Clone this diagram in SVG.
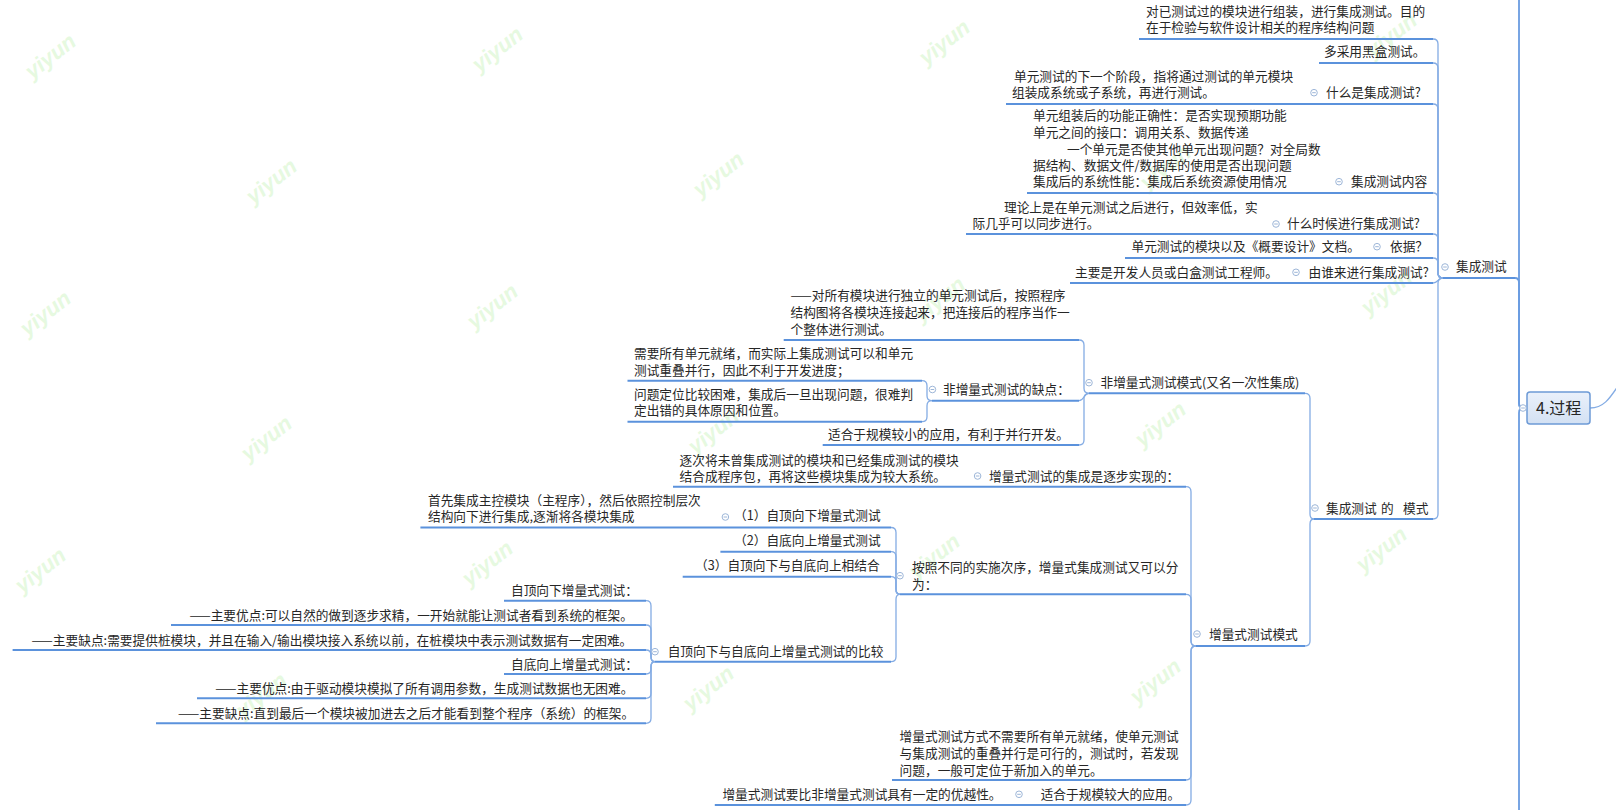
<svg xmlns="http://www.w3.org/2000/svg" xmlns:xlink="http://www.w3.org/1999/xlink" width="1616" height="810" viewBox="0 0 1616 810">
<style>
.t{font-family:"Noto Sans CJK SC","Noto Sans",sans-serif;font-size:12.7px;fill:#262626}
.u{stroke:#5b92dc;stroke-width:2;fill:none}
.c{stroke:#84ace4;stroke-width:1.3;fill:none}
.sp{stroke:#6a9ce0;stroke-width:1.8;fill:none}
.wm{font-family:"Liberation Sans",sans-serif;font-size:22px;font-weight:bold;font-style:italic;fill:#e6f9e0;text-anchor:middle}
.tg circle{fill:#fff;stroke:#9db6d8;stroke-width:1}
.tg line{stroke:#9db6d8;stroke-width:1}
</style>
<defs>
<linearGradient id="rg" x1="0" y1="0" x2="0" y2="1">
<stop offset="0" stop-color="#eaf1fb"/>
<stop offset="1" stop-color="#d3e1f3"/>
</linearGradient>
<g id="tog" class="tg"><circle r="3.3"/><line x1="-1.8" y1="0" x2="1.8" y2="0"/></g>
</defs>
<rect width="1616" height="810" fill="#ffffff"/>

<g id="watermarks">
<text class="wm" transform="translate(55,62) rotate(-38)">yiyun</text>
<text class="wm" transform="translate(502,55) rotate(-38)">yiyun</text>
<text class="wm" transform="translate(949,48) rotate(-38)">yiyun</text>
<text class="wm" transform="translate(1396,41) rotate(-38)">yiyun</text>
<text class="wm" transform="translate(276,187) rotate(-38)">yiyun</text>
<text class="wm" transform="translate(723,180) rotate(-38)">yiyun</text>
<text class="wm" transform="translate(1170,173) rotate(-38)">yiyun</text>
<text class="wm" transform="translate(50,319) rotate(-38)">yiyun</text>
<text class="wm" transform="translate(497,312) rotate(-38)">yiyun</text>
<text class="wm" transform="translate(944,305) rotate(-38)">yiyun</text>
<text class="wm" transform="translate(1391,298) rotate(-38)">yiyun</text>
<text class="wm" transform="translate(271,444) rotate(-38)">yiyun</text>
<text class="wm" transform="translate(718,437) rotate(-38)">yiyun</text>
<text class="wm" transform="translate(1165,430) rotate(-38)">yiyun</text>
<text class="wm" transform="translate(45,576) rotate(-38)">yiyun</text>
<text class="wm" transform="translate(492,569) rotate(-38)">yiyun</text>
<text class="wm" transform="translate(939,562) rotate(-38)">yiyun</text>
<text class="wm" transform="translate(1386,555) rotate(-38)">yiyun</text>
<text class="wm" transform="translate(266,701) rotate(-38)">yiyun</text>
<text class="wm" transform="translate(713,694) rotate(-38)">yiyun</text>
<text class="wm" transform="translate(1160,687) rotate(-38)">yiyun</text>
</g>

<g id="connectors">
<path class="sp" d="M1519,-2 V403 Q1519,408 1523,408"/>
<path class="sp" d="M1519,812 V413 Q1519,408 1523,408"/>
<path class="sp" d="M1515,278 Q1519,278 1519,283 V403 Q1519,408 1523,408"/>
<path class="c" d="M1590,408 C1603,408 1609,400 1620,383"/>
<path class="c" d="M1433,39 Q1438,39 1438,44 V273 Q1438,278 1443,278"/>
<path class="c" d="M1433,63 Q1438,63 1438,68 V273 Q1438,278 1443,278"/>
<path class="c" d="M1433,104 Q1438,104 1438,109 V273 Q1438,278 1443,278"/>
<path class="c" d="M1433,193 Q1438,193 1438,198 V273 Q1438,278 1443,278"/>
<path class="c" d="M1433,234 Q1438,234 1438,239 V273 Q1438,278 1443,278"/>
<path class="c" d="M1433,258 Q1438,258 1438,263 V273 Q1438,278 1443,278"/>
<path class="c" d="M1433,283 C1438,283 1438,278 1443,278"/>
<path class="c" d="M1433,519 Q1438,519 1438,514 V283 Q1438,278 1443,278"/>
<path class="c" d="M1305,393.3 Q1310,393.3 1310,398.3 V514 Q1310,519 1314,519"/>
<path class="c" d="M1305,646 Q1310,646 1310,641 V524 Q1310,519 1314,519"/>
<path class="c" d="M1079,340 Q1084,340 1084,345 V388.3 Q1084,393.3 1089,393.3"/>
<path class="c" d="M1079,400.7 C1084,400.7 1084,393.3 1089,393.3"/>
<path class="c" d="M1079,445 Q1084,445 1084,440 V398.3 Q1084,393.3 1089,393.3"/>
<path class="c" d="M922,380.7 Q927,380.7 927,385.7 V395.7 Q927,400.7 932,400.7"/>
<path class="c" d="M922,421.7 Q927,421.7 927,416.7 V405.7 Q927,400.7 932,400.7"/>
<path class="c" d="M1186,486.7 Q1191,486.7 1191,491.7 V641 Q1191,646 1196,646"/>
<path class="c" d="M1186,594.3 Q1191,594.3 1191,599.3 V641 Q1191,646 1196,646"/>
<path class="c" d="M1186,780 Q1191,780 1191,775 V651 Q1191,646 1196,646"/>
<path class="c" d="M1186,805 Q1191,805 1191,800 V651 Q1191,646 1196,646"/>
<path class="c" d="M891,527.5 Q896,527.5 896,532.5 V589.3 Q896,594.3 900,594.3"/>
<path class="c" d="M891,551.7 Q896,551.7 896,556.7 V589.3 Q896,594.3 900,594.3"/>
<path class="c" d="M891,576.7 Q896,576.7 896,581.7 V589.3 Q896,594.3 900,594.3"/>
<path class="c" d="M891,661.7 Q896,661.7 896,656.7 V599.3 Q896,594.3 900,594.3"/>
<path class="c" d="M646,600.7 Q651,600.7 651,605.7 V656.7 Q651,661.7 655,661.7"/>
<path class="c" d="M646,625 Q651,625 651,630 V656.7 Q651,661.7 655,661.7"/>
<path class="c" d="M646,650 Q651,650 651,655 V656.7 Q651,661.7 655,661.7"/>
<path class="c" d="M646,674 Q651,674 651,669 V666.7 Q651,661.7 655,661.7"/>
<path class="c" d="M646,698.3 Q651,698.3 651,693.3 V666.7 Q651,661.7 655,661.7"/>
<path class="c" d="M646,723.3 Q651,723.3 651,718.3 V666.7 Q651,661.7 655,661.7"/>
</g>

<g id="n-root">
<rect x="1527" y="392" width="63" height="32" rx="3" fill="url(#rg)" stroke="#6d9ad6" stroke-width="1.5"/>
<text x="1536" y="414" style="font-family:'Noto Sans CJK SC','Noto Sans',sans-serif;font-size:16px;fill:#262626">4.过程</text>
<use xlink:href="#tog" x="1523" y="408"/>
</g>

<g id="n-jc">
<text class="t" x="1456" y="271">集成测试</text>
<path class="u" d="M1443,278 H1515"/>
<use xlink:href="#tog" x="1445" y="267"/>
</g>

<g id="n-a">
<text class="t" x="1146" y="16">对已测试过的模块进行组装，进行集成测试。目的</text>
<text class="t" x="1146" y="32">在于检验与软件设计相关的程序结构问题</text>
<path class="u" d="M1139,39 H1433"/>
</g>

<g id="n-b">
<text class="t" x="1324" y="56">多采用黑盒测试。</text>
<path class="u" d="M1319,63 H1433"/>
</g>

<g id="n-c">
<text class="t" x="1326" y="97">什么是集成测试?</text>
<path class="u" d="M1310,104 H1433"/>
<use xlink:href="#tog" x="1314" y="92.7"/>
</g>
<g id="n-c1">
<text class="t" x="1014" y="81">单元测试的下一个阶段，指将通过测试的单元模块</text>
<text class="t" x="1012" y="97">组装成系统或子系统，再进行测试。</text>
<path class="u" d="M1006,104 H1310"/>
</g>

<g id="n-d">
<text class="t" x="1351" y="186">集成测试内容</text>
<path class="u" d="M1335,193 H1433"/>
<use xlink:href="#tog" x="1339" y="181.7"/>
</g>
<g id="n-d1">
<text class="t" x="1033" y="120">单元组装后的功能正确性：是否实现预期功能</text>
<text class="t" x="1033" y="137">单元之间的接口：调用关系、数据传递</text>
<text class="t" x="1067" y="153.5">一个单元是否使其他单元出现问题？对全局数</text>
<text class="t" x="1033" y="170">据结构、数据文件/数据库的使用是否出现问题</text>
<text class="t" x="1033" y="186">集成后的系统性能：集成后系统资源使用情况</text>
<path class="u" d="M1027,193 H1335"/>
</g>

<g id="n-e">
<text class="t" x="1287" y="228">什么时候进行集成测试?</text>
<path class="u" d="M1272,234 H1433"/>
<use xlink:href="#tog" x="1276" y="224"/>
</g>
<g id="n-e1">
<text class="t" x="1004" y="212">理论上是在单元测试之后进行，但效率低，实</text>
<text class="t" x="972.5" y="228">际几乎可以同步进行。</text>
<path class="u" d="M966,234 H1272"/>
</g>

<g id="n-f">
<text class="t" x="1390" y="251">依据？</text>
<path class="u" d="M1373,258 H1433"/>
<use xlink:href="#tog" x="1377" y="246.7"/>
</g>
<g id="n-f1">
<text class="t" x="1131.5" y="251">单元测试的模块以及《概要设计》文档。</text>
<path class="u" d="M1125,258 H1373"/>
</g>

<g id="n-g">
<text class="t" x="1308.5" y="276.5">由谁来进行集成测试?</text>
<path class="u" d="M1292,283 H1433"/>
<use xlink:href="#tog" x="1296" y="272.3"/>
</g>
<g id="n-g1">
<text class="t" x="1075" y="276.5">主要是开发人员或白盒测试工程师。</text>
<path class="u" d="M1070,283 H1292"/>
</g>

<g id="n-mode">
<text class="t" y="512.5"><tspan x="1326">集成测试</tspan><tspan x="1381">的</tspan><tspan x="1403">模式</tspan></text>
<path class="u" d="M1314,519 H1433"/>
<use xlink:href="#tog" x="1315" y="508"/>
</g>

<g id="n-non">
<text class="t" x="1100.5" y="387">非增量式测试模式(又名一次性集成)</text>
<path class="u" d="M1089,393.3 H1305"/>
<use xlink:href="#tog" x="1089" y="382.7"/>
</g>
<g id="n-non1">
<text class="t" x="790.5" y="299.5">——对所有模块进行独立的单元测试后，按照程序</text>
<text class="t" x="790.5" y="316.5">结构图将各模块连接起来，把连接后的程序当作一</text>
<text class="t" x="790.5" y="333.5">个整体进行测试。</text>
<path class="u" d="M783.7,340 H1079"/>
</g>
<g id="n-nonq">
<text class="t" x="943" y="393.5">非增量式测试的缺点：</text>
<path class="u" d="M932,400.7 H1079"/>
<use xlink:href="#tog" x="932.4" y="389.5"/>
</g>
<g id="n-nonq1">
<text class="t" x="634" y="358">需要所有单元就绪，而实际上集成测试可以和单元</text>
<text class="t" x="634" y="374.5">测试重叠并行，因此不利于开发进度；</text>
<path class="u" d="M627.5,380.7 H922"/>
</g>
<g id="n-nonq2">
<text class="t" x="634" y="398.5">问题定位比较困难，集成后一旦出现问题，很难判</text>
<text class="t" x="634" y="414.5">定出错的具体原因和位置。</text>
<path class="u" d="M627.5,421.7 H922"/>
</g>
<g id="n-non3">
<text class="t" x="828" y="438.5">适合于规模较小的应用，有利于并行开发。</text>
<path class="u" d="M822.7,445 H1079"/>
</g>

<g id="n-inc">
<text class="t" x="1209" y="638.5">增量式测试模式</text>
<path class="u" d="M1196,646 H1305"/>
<use xlink:href="#tog" x="1197" y="634"/>
</g>
<g id="n-inc1">
<text class="t" x="989" y="480.5">增量式测试的集成是逐步实现的：</text>
<path class="u" d="M977,486.7 H1186"/>
<use xlink:href="#tog" x="977.6" y="476"/>
</g>
<g id="n-inc1a">
<text class="t" x="679.6" y="464.5">逐次将未曾集成测试的模块和已经集成测试的模块</text>
<text class="t" x="679.6" y="480.5">结合成程序包，再将这些模块集成为较大系统。</text>
<path class="u" d="M673,486.7 H977"/>
</g>
<g id="n-inc2">
<text class="t" x="912" y="571.5">按照不同的实施次序，增量式集成测试又可以分</text>
<text class="t" x="912" y="588.5">为：</text>
<path class="u" d="M900,594.3 H1186"/>
<use xlink:href="#tog" x="900" y="575.7"/>
</g>
<g id="n-inc2a">
<text class="t" x="734" y="520">（1）自顶向下增量式测试</text>
<path class="u" d="M722,527.5 H891"/>
<use xlink:href="#tog" x="725.4" y="517"/>
</g>
<g id="n-inc2a1">
<text class="t" x="428" y="504.5">首先集成主控模块（主程序），然后依照控制层次</text>
<text class="t" x="428" y="521">结构向下进行集成,逐渐将各模块集成</text>
<path class="u" d="M420.4,527.5 H722"/>
</g>
<g id="n-inc2b">
<text class="t" x="734" y="545">（2）自底向上增量式测试</text>
<path class="u" d="M720.4,551.7 H891"/>
</g>
<g id="n-inc2c">
<text class="t" x="695" y="569.5">（3）自顶向下与自底向上相结合</text>
<path class="u" d="M682.7,576.7 H891"/>
</g>
<g id="n-inc2d">
<text class="t" x="667.7" y="655.5">自顶向下与自底向上增量式测试的比较</text>
<path class="u" d="M655,661.7 H891"/>
<use xlink:href="#tog" x="655" y="651.7"/>
</g>
<g id="n-cmp1">
<text class="t" x="511" y="594.5">自顶向下增量式测试：</text>
<path class="u" d="M504,600.7 H646"/>
</g>
<g id="n-cmp2">
<text class="t" x="189.4" y="619.5">——主要优点:可以自然的做到逐步求精，一开始就能让测试者看到系统的框架。</text>
<path class="u" d="M171,625 H646"/>
</g>
<g id="n-cmp3">
<text class="t" x="31.6" y="644.5">——主要缺点:需要提供桩模块，并且在输入/输出模块接入系统以前，在桩模块中表示测试数据有一定困难。</text>
<path class="u" d="M12.6,650 H646"/>
</g>
<g id="n-cmp4">
<text class="t" x="511" y="668.5">自底向上增量式测试：</text>
<path class="u" d="M504,674 H646"/>
</g>
<g id="n-cmp5">
<text class="t" x="215.3" y="693">——主要优点:由于驱动模块模拟了所有调用参数，生成测试数据也无困难。</text>
<path class="u" d="M197,698.3 H646"/>
</g>
<g id="n-cmp6">
<text class="t" x="178" y="718">——主要缺点:直到最后一个模块被加进去之后才能看到整个程序（系统）的框架。</text>
<path class="u" d="M156,723.3 H646"/>
</g>
<g id="n-inc3">
<text class="t" x="899.6" y="741">增量式测试方式不需要所有单元就绪，使单元测试</text>
<text class="t" x="899.6" y="758">与集成测试的重叠并行是可行的，测试时，若发现</text>
<text class="t" x="899.6" y="775">问题，一般可定位于新加入的单元。</text>
<path class="u" d="M892,780 H1186"/>
</g>
<g id="n-inc4">
<text class="t" x="1040.7" y="798.5">适合于规模较大的应用。</text>
<path class="u" d="M1015,805 H1186"/>
<use xlink:href="#tog" x="1019" y="794.3"/>
</g>
<g id="n-inc4a">
<text class="t" x="722.4" y="798.5">增量式测试要比非增量式测试具有一定的优越性。</text>
<path class="u" d="M714.8,805 H1015"/>
</g>
</svg>
